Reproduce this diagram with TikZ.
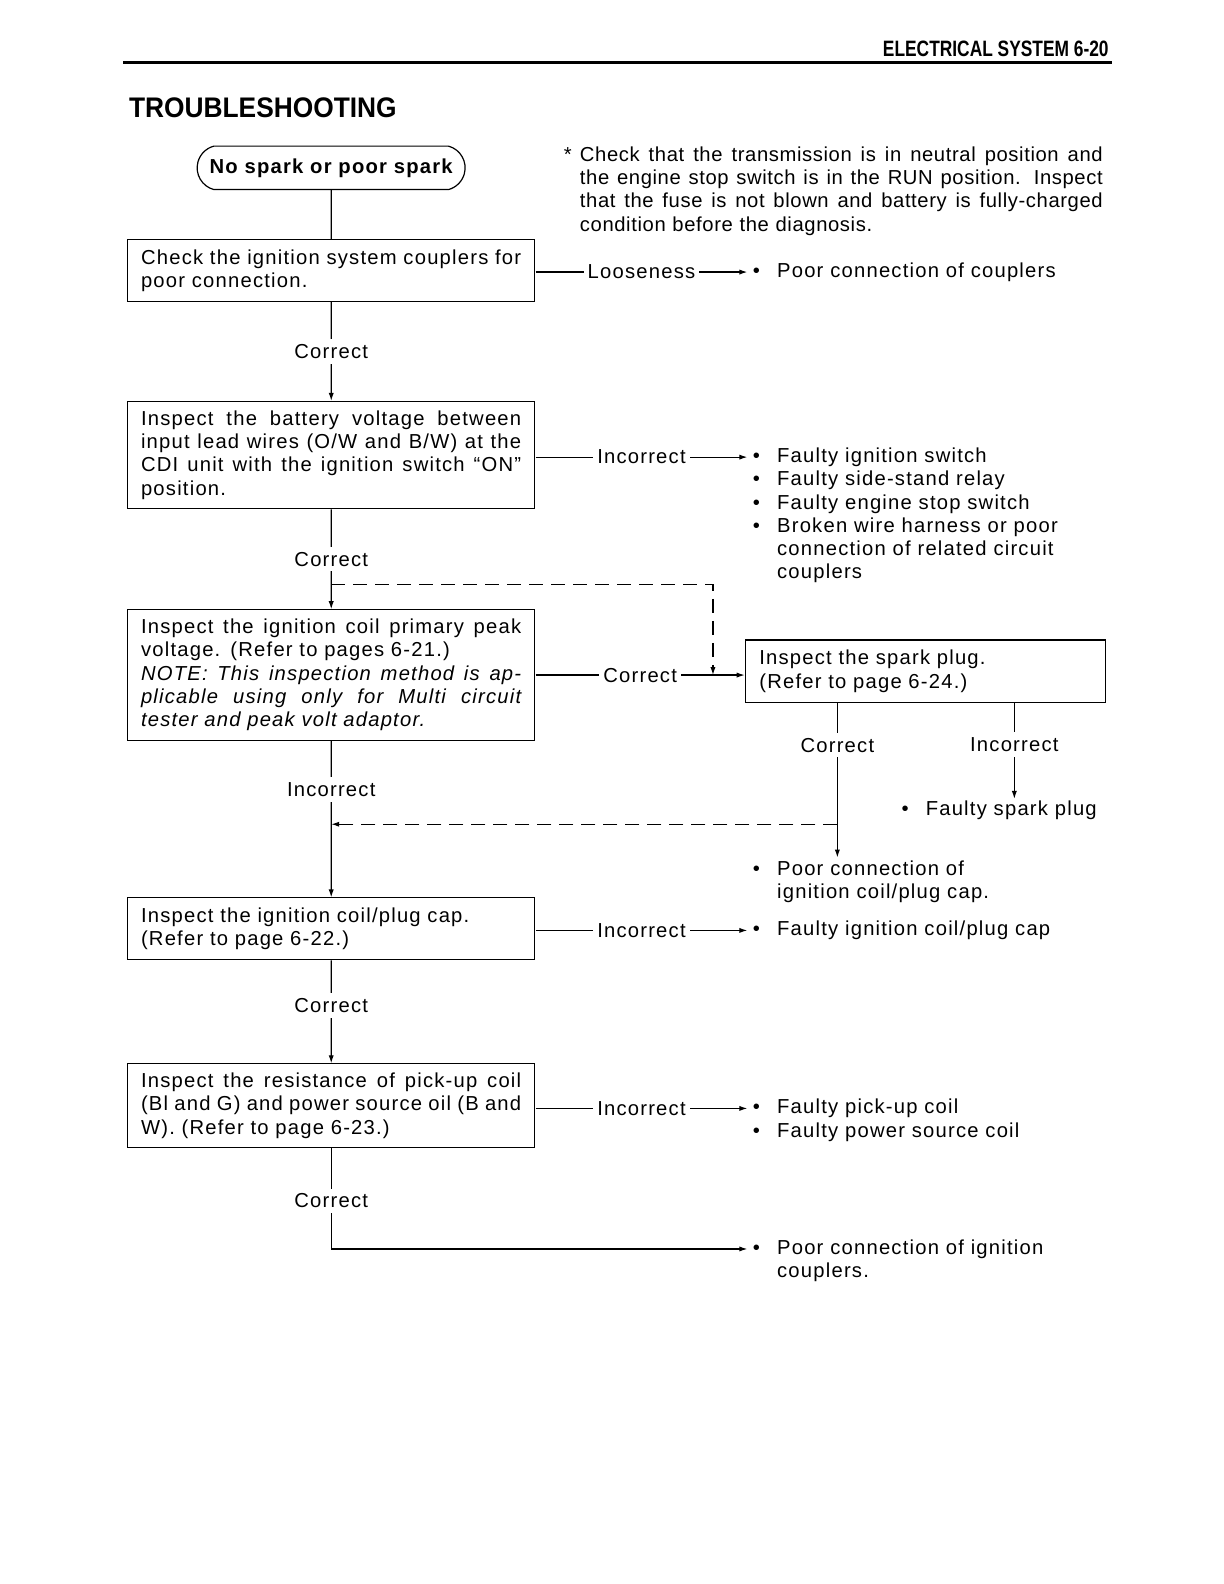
\documentclass[tikz,border=0pt]{standalone}
\usepackage{fontspec}
\usepackage{graphicx}
\setmainfont{Liberation Sans}[LetterSpace=6]
\newfontfamily\headfont{Liberation Sans}
\newfontfamily\notefont{Liberation Sans}[LetterSpace=3]
\usetikzlibrary{arrows.meta,shapes.misc}

\newcommand{\fullline}[1]{\makebox[188pt][s]{\spaceskip=0pt\xspaceskip=0pt #1}}
\newcommand{\noteline}[1]{\makebox[258.5pt][s]{\spaceskip=0pt\xspaceskip=0pt #1}}
\newcommand{\itm}{\makebox[12pt][l]{\textbullet}}
\newcommand{\cont}{\hspace*{12pt}}

\begin{document}
\begin{tikzpicture}[x=0.5pt, y=-0.5pt, scale=1.0111, transform shape, line width=0.6pt,
    every node/.style={font=\fontsize{10}{11.5}\selectfont},
    startbox/.style={draw, rounded rectangle, rounded rectangle arc length=150,
      minimum width=132.5pt, minimum height=21.5pt, inner sep=0pt},
    stepbox/.style={draw, text width=188pt, inner xsep=6.75pt, align=left},
    result/.style={inner sep=0pt, align=left},
    lbl/.style={fill=white, inner xsep=2pt, inner ysep=2.5pt},
    arr/.style={-{Latex[length=4pt,width=2.6pt]}},
    dasharr/.style={arr, dash pattern=on 7pt off 4pt}]

  \path[use as bounding box, fill=white] (0,0) rectangle (1210.5,1566.6);

  % page head
  \node[anchor=east, inner sep=0pt, font=\headfont\bfseries\fontsize{11}{13}\selectfont]
    (pagehead) at (1097,48) {\scalebox{0.78}[1]{ELECTRICAL SYSTEM 6-20}};
  \draw[line width=1.5pt] (122,62) -- (1100,62);
  \node[anchor=west, inner sep=0pt, font=\headfont\bfseries\fontsize{14}{16}\selectfont]
    (title) at (127,107) {\scalebox{0.93}[1]{TROUBLESHOOTING}};

  \node[result, anchor=north west, text width=266.5pt, font=\notefont\fontsize{10}{11.5}\selectfont]
    (note) at (557,144.5)
    {\makebox[8pt][l]{*}\noteline{Check that the transmission is in neutral position and}\\
     \hspace*{8pt}\noteline{the engine stop switch is in the RUN position. Inspect}\\
     \hspace*{8pt}\noteline{that the fuse is not blown and battery is fully-charged}\\
     \hspace*{8pt}condition before the diagnosis.};

  % main column
  \node[startbox, font=\bfseries\fontsize{10}{11.5}\selectfont] (start) at (327.5,166)
    {No spark or poor spark};
  \node[stepbox, minimum height=30.5pt] (couplers) at (327.5,267.5)
    {\fullline{Check the ignition system couplers for}\\ poor connection.};
  \node[stepbox, minimum height=53pt] (battery) at (327.5,450)
    {\fullline{Inspect the battery voltage between}\\
     \fullline{input lead wires (O/W and B/W) at the}\\
     \fullline{CDI unit with the ignition switch “ON”}\\
     position.};
  \node[stepbox, minimum height=64.5pt] (peakvolt) at (327.5,667.5)
    {\fullline{Inspect the ignition coil primary peak}\\
     voltage. (Refer to pages 6-21.)\\
     \fullline{\itshape NOTE: This inspection method is ap-}\\
     \fullline{\itshape plicable using only for Multi circuit}\\
     {\itshape tester and peak volt adaptor.}};
  \node[stepbox, text width=164pt, inner xsep=7pt, minimum height=31pt] (sparkplug) at (915,664)
    {Inspect the spark plug.\\ (Refer to page 6-24.)};
  \node[stepbox, minimum height=30.5pt] (plugcap) at (327.5,918.5)
    {Inspect the ignition coil/plug cap.\\ (Refer to page 6-22.)};
  \node[stepbox, minimum height=41.5pt] (pickup) at (327.5,1093.5)
    {\fullline{Inspect the resistance of pick-up coil}\\
     \fullline{(Bl and G) and power source oil (B and}\\
     W). (Refer to page 6-23.)};

  % results
  \node[result, anchor=west] (loosefault) at (744,269) {\itm Poor connection of couplers};
  \node[result, anchor=north west] (switchfault) at (744,442.5)
    {\itm Faulty ignition switch\\ \itm Faulty side-stand relay\\
     \itm Faulty engine stop switch\\ \itm Broken wire harness or poor\\
     \cont connection of related circuit\\ \cont couplers};
  \node[result, anchor=west] (plugfault) at (891,801) {\itm Faulty spark plug};
  \node[result, anchor=north west] (capconn) at (744,850.5)
    {\itm Poor connection of\\ \cont ignition coil/plug cap.};
  \node[result, anchor=west] (capfault) at (744,920) {\itm Faulty ignition coil/plug cap};
  \node[result, anchor=north west] (coilfault) at (744,1086.5)
    {\itm Faulty pick-up coil\\ \itm Faulty power source coil};
  \node[result, anchor=north west] (ignconn) at (744,1225.5)
    {\itm Poor connection of ignition\\ \cont couplers.};

  \coordinate (tipA) at (739,269);
  \coordinate (tipB) at (739,452);
  \coordinate (tipC) at (828,848);
  \coordinate (tipD) at (1003,790);
  \coordinate (tipE) at (739,920);
  \coordinate (tipF) at (739,1096);
  \coordinate (tipG) at (739,1235);
  \coordinate (skipA) at (327.5,578);
  \coordinate (skipB) at (705,667.5);
  \coordinate (backA) at (828,815);
  \coordinate (backB) at (327.5,815);

  % connectors
  \draw (start) -- (couplers);
  \draw[arr] (couplers) -- node[lbl] {Correct} (battery);
  \draw[arr] (battery) -- node[lbl] {Correct} (peakvolt);
  \draw[arr] (peakvolt) -- node[lbl, pos=0.31] {Incorrect} (plugcap);
  \draw[arr] (plugcap) -- node[lbl, pos=0.44] {Correct} (pickup);
  \draw[arr] (pickup) |- node[lbl, pos=0.26] {Correct} (tipG);

  \draw[arr] (couplers.east |- tipA) -- node[lbl] {Looseness} (tipA);
  \draw[arr] (battery.east |- tipB) -- node[lbl] {Incorrect} (tipB);
  \draw[arr] (peakvolt.east) -- node[lbl] {Correct} (peakvolt.east -| sparkplug.west);
  \draw[arr] (plugcap.east |- tipE) -- node[lbl] {Incorrect} (tipE);
  \draw[arr] (pickup.east |- tipF) -- node[lbl] {Incorrect} (tipF);

  \draw[arr] (sparkplug.south -| tipC) -- node[lbl, pos=0.27] {Correct} (tipC);
  \draw[arr] (sparkplug.south -| tipD) -- node[lbl, pos=0.43] {Incorrect} (tipD);

  \draw[dasharr] (skipA) -| (skipB);
  \draw[dasharr] (backA) -- (backB);

\end{tikzpicture}
\end{document}
